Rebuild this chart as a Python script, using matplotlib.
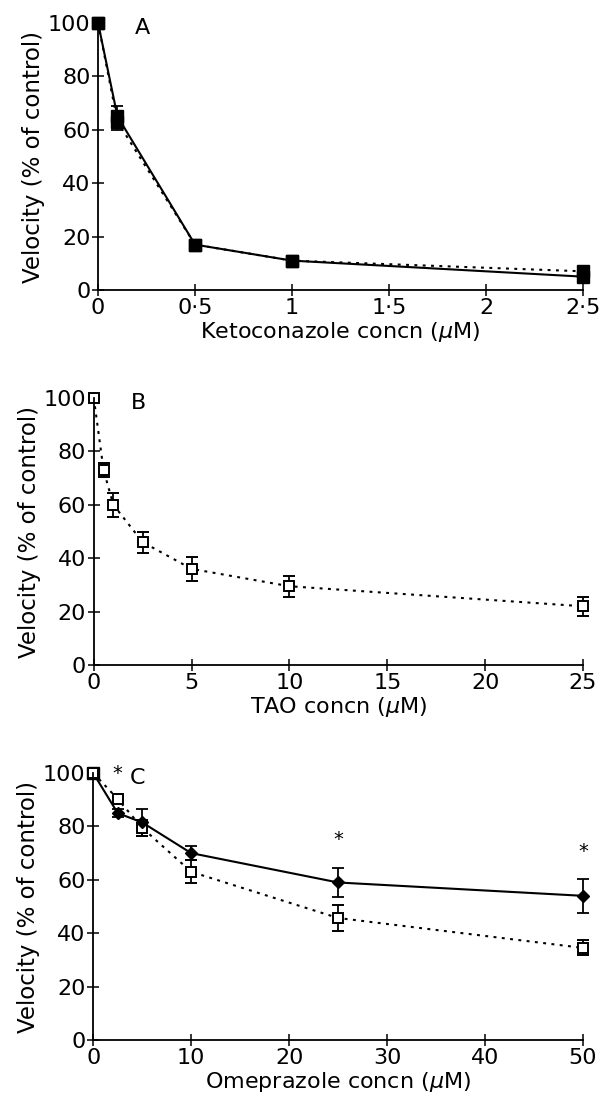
import matplotlib
matplotlib.use("Agg")
import matplotlib.pyplot as plt

# panel A: ketoconazole
keto_x = [0, 0.1, 0.5, 1, 2.5]
keto_solid = [100, 65, 17, 11, 5]
keto_solid_err = [0, 4, 1, 1, 1.5]
keto_dot = [100, 63, 17, 11, 7]
keto_dot_err = [0, 3, 1, 1, 1.5]

# panel B: TAO
tao_x = [0, 0.5, 1, 2.5, 5, 10, 25]
tao_y = [100, 73, 60, 46, 36, 29.5, 22]
tao_err = [0.5, 2.5, 4.5, 4, 4.5, 4, 3.5]

# panel C: omeprazole
ome_x = [0, 2.5, 5, 10, 25, 50]
ome_solid = [100, 85, 81.5, 70, 59, 54]
ome_solid_err = [0, 1.5, 5, 2.5, 5.6, 6.4]
ome_dot = [100, 90.3, 79.5, 63, 45.7, 34.5]
ome_dot_err = [0, 1, 3, 4.3, 4.9, 2.8]
star_x = [2.5, 25, 50]
star_y = [100, 75, 70.5]

plt.rcParams.update({"font.family": ["DejaVu Sans"],
                     "font.size": 16, "mathtext.fontset": "dejavusans"})

fig = plt.figure(figsize=(6.13, 11.01), dpi=100)
axA = fig.add_axes([0.160, 0.7366, 0.791, 0.2425])
axB = fig.add_axes([0.153, 0.396, 0.798, 0.2425])
axC = fig.add_axes([0.152, 0.0554, 0.799, 0.2425])

DOT = (0, (1.4, 2.6))
eb = dict(capsize=4, elinewidth=1.3, capthick=1.3, clip_on=False)


def style(ax, xlim, xticks, xlabels, xlabel, letter):
    ax.set_xlim(*xlim)
    ax.set_ylim(0, 100)
    ax.set_xticks(xticks)
    ax.set_xticklabels(xlabels)
    ax.set_yticks([0, 20, 40, 60, 80, 100])
    for s in ["top", "right"]:
        ax.spines[s].set_visible(False)
    for s in ["left", "bottom"]:
        ax.spines[s].set_linewidth(1.3)
    ax.tick_params(direction="inout", length=9, width=1.1, pad=1)
    ax.set_ylabel("Velocity (% of control)", fontsize=16.5, labelpad=2)
    ax.set_xlabel(xlabel, labelpad=2)
    ax.text(0.075, 0.98, letter, transform=ax.transAxes, fontsize=16,
            va="center", ha="left")


# A
axA.errorbar(keto_x, keto_dot, yerr=keto_dot_err, color="black", lw=1.5,
             ls=DOT, marker="s", ms=8, mfc="black", mec="black", **eb)
axA.errorbar(keto_x, keto_solid, yerr=keto_solid_err, color="black", lw=1.5,
             ls="-", marker="s", ms=8, mfc="black", mec="black", **eb)
style(axA, (0, 2.5), [0, 0.5, 1, 1.5, 2, 2.5],
      ["0", "0·5", "1", "1·5", "2", "2·5"],
      r"Ketoconazole concn ($\mu$M)", "A")

# B
axB.errorbar(tao_x, tao_y, yerr=tao_err, color="black", lw=1.5, ls=DOT,
             marker="s", ms=6.5, mfc="white", mec="black", mew=1.4, **eb)
style(axB, (0, 25), [0, 5, 10, 15, 20, 25],
      ["0", "5", "10", "15", "20", "25"], r"TAO concn ($\mu$M)", "B")

# C
axC.errorbar(ome_x, ome_dot, yerr=ome_dot_err, color="black", lw=1.5, ls=DOT,
             marker="s", ms=6.5, mfc="white", mec="black", mew=1.4, **eb)
axC.errorbar(ome_x[1:], ome_solid[1:], yerr=ome_solid_err[1:], color="black",
             lw=1.5, ls="-", marker="D", ms=6, mfc="black", mec="black", **eb)
axC.plot(ome_x[:2], ome_solid[:2], color="black", lw=1.5, clip_on=False)
axC.plot(ome_x[0], ome_solid[0], marker="s", ms=8, color="black", clip_on=False)
for sx, sy in zip(star_x, star_y):
    axC.text(sx, sy, "*", ha="center", va="center", fontsize=14)
style(axC, (0, 50), [0, 10, 20, 30, 40, 50],
      ["0", "10", "20", "30", "40", "50"], r"Omeprazole concn ($\mu$M)", "C")

fig.savefig("out.png", dpi=100)
